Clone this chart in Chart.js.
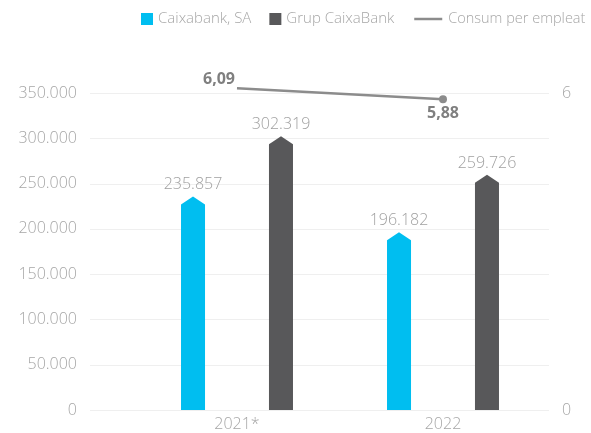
<!DOCTYPE html>
<html>
<head>
<meta charset="utf-8">
<script src="https://cdn.jsdelivr.net/npm/chart.js@4/dist/chart.umd.min.js"></script>
<style>
  html, body { margin: 0; padding: 0; background: #fff; }
  canvas { display: block; }
</style>
</head>
<body>
<canvas id="chart" width="591" height="433"></canvas>
<script>
const years = ['2021*', '2022'];
const caixabankSA = [235857, 196182];
const grupCaixaBank = [302319, 259726];
const consumPerEmpleat = [6.09, 5.88];
const seriesNames = ['Caixabank, SA', 'Grup CaixaBank', 'Consum per empleat'];
const leftMax = 350000;
const leftStep = 50000;
const rightMax = 6;

const FONT = '"Open Sans", "Noto Sans", sans-serif';
const cyan = '#00BEF0';
const dark = '#58585A';
const lineGrey = '#8C8C8C';
const textGrey = '#A6A6A6';

const thousands = n => String(n).replace(/\B(?=(\d{3})+(?!\d))/g, '.');
const decimal = n => n.toFixed(2).replace('.', ',');

// gridlines run a bit wider than the plot area, like the original
const gridPlugin = {
    id: 'grid',
    beforeDatasetsDraw(chart) {
        const { ctx, chartArea } = chart;
        const y = chart.scales.y;
        ctx.save();
        ctx.strokeStyle = '#EFEFEF';
        ctx.lineWidth = 1;
        y.ticks.forEach(t => {
            const py = Math.round(y.getPixelForValue(t.value)) + 0.5;
            ctx.beginPath();
            ctx.moveTo(chartArea.left - 44, py);
            ctx.lineTo(chartArea.right + 3, py);
            ctx.stroke();
        });
        ctx.restore();
    }
};

// bars with a pointed top
const arrowBars = {
    id: 'arrowBars',
    beforeDatasetDraw(chart, args) {
        const meta = args.meta;
        if (meta.type !== 'bar') return;
        const { ctx } = chart;
        const color = chart.data.datasets[args.index].backgroundColor;
        ctx.save();
        ctx.fillStyle = color;
        meta.data.forEach(bar => {
            const half = bar.width / 2;
            const shoulder = bar.y + 8;
            ctx.beginPath();
            ctx.moveTo(bar.x - half, bar.base);
            ctx.lineTo(bar.x - half, shoulder);
            ctx.lineTo(bar.x, bar.y);
            ctx.lineTo(bar.x + half, shoulder);
            ctx.lineTo(bar.x + half, bar.base);
            ctx.closePath();
            ctx.fill();
        });
        ctx.restore();
        return false;
    }
};

const labelsPlugin = {
    id: 'valueLabels',
    afterDatasetsDraw(chart) {
        const { ctx } = chart;
        ctx.save();
        ctx.font = '300 16px ' + FONT;
        ctx.fillStyle = '#A0A0A0';
        ctx.textAlign = 'center';
        ctx.textBaseline = 'alphabetic';
        [0, 1].forEach(di => {
            const meta = chart.getDatasetMeta(di);
            meta.data.forEach((bar, i) => {
                ctx.fillText(thousands(chart.data.datasets[di].data[i]), bar.x, bar.y - 7);
            });
        });
        const lm = chart.getDatasetMeta(2);
        ctx.font = 'bold 16px ' + FONT;
        ctx.fillStyle = '#7F7F7F';
        lm.data.forEach((pt, i) => {
            const txt = decimal(consumPerEmpleat[i]);
            if (i === 0) {
                ctx.textAlign = 'right';
                ctx.textBaseline = 'bottom';
                ctx.fillText(txt, pt.x - 2, pt.y - 1);
            } else {
                ctx.textAlign = 'center';
                ctx.textBaseline = 'top';
                ctx.fillText(txt, pt.x, pt.y + 6);
            }
        });
        ctx.restore();
    }
};

const legendPlugin = {
    id: 'customLegend',
    afterDraw(chart) {
        const { ctx } = chart;
        ctx.save();
        ctx.font = '300 15px ' + FONT;
        ctx.textBaseline = 'middle';
        ctx.textAlign = 'left';
        const cy = 19;
        let x = 141;
        [cyan, dark].forEach((c, i) => {
            ctx.fillStyle = c;
            ctx.fillRect(x, cy - 6, 12, 12);
            x += 17;
            ctx.fillStyle = textGrey;
            ctx.fillText(seriesNames[i], x, cy);
            x += ctx.measureText(seriesNames[i]).width + 18;
        });
        x += 2;
        ctx.strokeStyle = lineGrey;
        ctx.lineWidth = 2.5;
        ctx.beginPath();
        ctx.moveTo(x, cy);
        ctx.lineTo(x + 28, cy);
        ctx.stroke();
        x += 34;
        ctx.fillStyle = textGrey;
        ctx.font = '300 14.5px ' + FONT;
        ctx.fillText(seriesNames[2], x, cy);
        ctx.restore();
    }
};

new Chart(document.getElementById('chart'), {
    type: 'bar',
    data: {
        labels: years,
        datasets: [
            {
                label: seriesNames[0],
                data: caixabankSA,
                backgroundColor: cyan,
                yAxisID: 'y',
                order: 1,
                categoryPercentage: 0.854,
                barPercentage: 0.273
            },
            {
                label: seriesNames[1],
                data: grupCaixaBank,
                backgroundColor: dark,
                yAxisID: 'y',
                order: 1,
                categoryPercentage: 0.854,
                barPercentage: 0.273
            },
            {
                type: 'line',
                label: seriesNames[2],
                data: consumPerEmpleat,
                yAxisID: 'y1',
                order: 0,
                borderColor: lineGrey,
                backgroundColor: lineGrey,
                borderWidth: 2.5,
                pointRadius: 4,
                pointBackgroundColor: lineGrey,
                pointBorderWidth: 0,
                clip: false
            }
        ]
    },
    options: {
        responsive: false,
        animation: false,
        layout: { padding: { top: 93, left: 0, right: 0, bottom: 0 } },
        plugins: {
            legend: { display: false },
            tooltip: { enabled: false }
        },
        scales: {
            x: {
                offset: true,
                grid: { display: false, drawTicks: false },
                border: { display: false },
                ticks: {
                    color: textGrey,
                    font: { family: FONT, size: 16, weight: 300 },
                    padding: 5
                },
                afterFit(scale) { scale.height = 23; }
            },
            y: {
                position: 'left',
                min: 0,
                max: leftMax,
                grid: { display: false, drawTicks: false },
                border: { display: false },
                ticks: {
                    stepSize: leftStep,
                    color: textGrey,
                    font: { family: FONT, size: 16, weight: 300 },
                    padding: 57,
                    callback: v => thousands(v)
                },
                afterFit(scale) {
                    scale.width = 134;
                    scale.paddingTop = 10;
                    scale.paddingBottom = 10;
                }
            },
            y1: {
                position: 'right',
                min: 0,
                max: rightMax,
                grid: { display: false, drawTicks: false },
                border: { display: false },
                ticks: {
                    stepSize: rightMax,
                    color: textGrey,
                    font: { family: FONT, size: 16, weight: 300 },
                    padding: 16
                },
                afterFit(scale) {
                    scale.width = 45;
                    scale.paddingTop = 10;
                    scale.paddingBottom = 10;
                }
            }
        }
    },
    plugins: [gridPlugin, arrowBars, labelsPlugin, legendPlugin]
});
</script>
</body>
</html>
